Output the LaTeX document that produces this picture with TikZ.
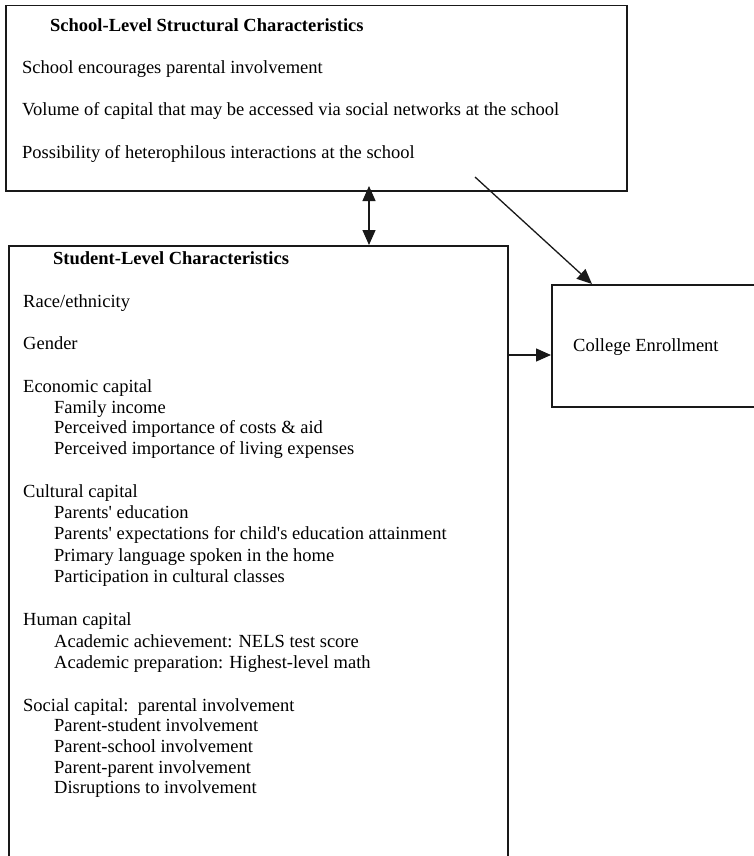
\documentclass[tikz,border=0pt]{standalone}
\usepackage{fontspec}
\setmainfont{Liberation Serif}
\usetikzlibrary{arrows.meta}
\begin{document}
\begin{tikzpicture}[x=1pt,y=-1pt,
  box/.style={draw=black!90, line width=1.5pt, rectangle, inner sep=0pt, anchor=north west},
  txt/.style={anchor=base west, inner sep=0pt, font=\fontsize{18.5}{21}\selectfont},
  ttl/.style={anchor=base west, inner sep=0pt, font=\fontsize{18.5}{21}\selectfont\bfseries},
  arr/.style={draw=black!90, line width=1.3pt, -{Triangle[length=15pt,width=13pt]}},
  dblarr/.style={draw=black!90, line width=1.3pt, {Triangle[length=15pt,width=13pt]}-{Triangle[length=15pt,width=13pt]}},
]
\useasboundingbox (0,0) rectangle (754,856);
% boxes
\node[box, minimum width=621pt, minimum height=185pt] (top) at (5,5) {};
\node[box, minimum width=499pt, minimum height=612pt] (stu) at (8,245) {};
\node[box, minimum width=230pt, minimum height=122pt] (col) at (551,284) {};
% top box text
\node[ttl] (t0) at (50,32) {School-Level Structural Characteristics};
\node[txt] (t1) at (22,74) {School encourages parental involvement};
\node[txt] (t2) at (22,116) {Volume of capital that may be accessed via social networks at the school};
\node[txt] (t3) at (22,158) {Possibility of heterophilous interactions at the school};
% student box text
\node[ttl] (s0) at (53,264) {Student-Level Characteristics};
\node[txt] (s1) at (23,307) {Race/ethnicity};
\node[txt] (s2) at (23,349) {Gender};
\node[txt] (s3) at (23,392) {Economic capital};
\node[txt] (s4) at (54,413) {Family income};
\node[txt] (s5) at (54,433) {Perceived importance of costs \& aid};
\node[txt] (s6) at (54,454) {Perceived importance of living expenses};
\node[txt] (s7) at (23,497) {Cultural capital};
\node[txt] (s8) at (54,518) {Parents\textquotesingle\ education};
\node[txt] (s9) at (54,539) {Parents\textquotesingle\ expectations for child\textquotesingle s education attainment};
\node[txt] (s10) at (54,561) {Primary language spoken in the home};
\node[txt] (s11) at (54,582) {Participation in cultural classes};
\node[txt] (s12) at (23,625) {Human capital};
\node[txt] (s13) at (54,647) {Academic achievement: NELS test score};
\node[txt] (s14) at (54,668) {Academic preparation: Highest-level math};
\node[txt] (s15) at (23,711) {Social capital:\ \ parental involvement};
\node[txt] (s16) at (54,731) {Parent-student involvement};
\node[txt] (s17) at (54,752) {Parent-school involvement};
\node[txt] (s18) at (54,773) {Parent-parent involvement};
\node[txt] (s19) at (54,793) {Disruptions to involvement};
% college
\node[txt] (c1) at (573,351) {College Enrollment};
% connectors
\coordinate (m0) at (369,186);
\coordinate (d0) at (475,177);
\coordinate (dx) at (592,0);
\coordinate (hy) at (0,355);
\draw[dblarr] (m0) -- (stu.north -| m0);
\draw[arr] (d0) -- (col.north -| dx);
\draw[arr] (stu.east |- hy) -- (col.west |- hy);
\end{tikzpicture}
\end{document}
